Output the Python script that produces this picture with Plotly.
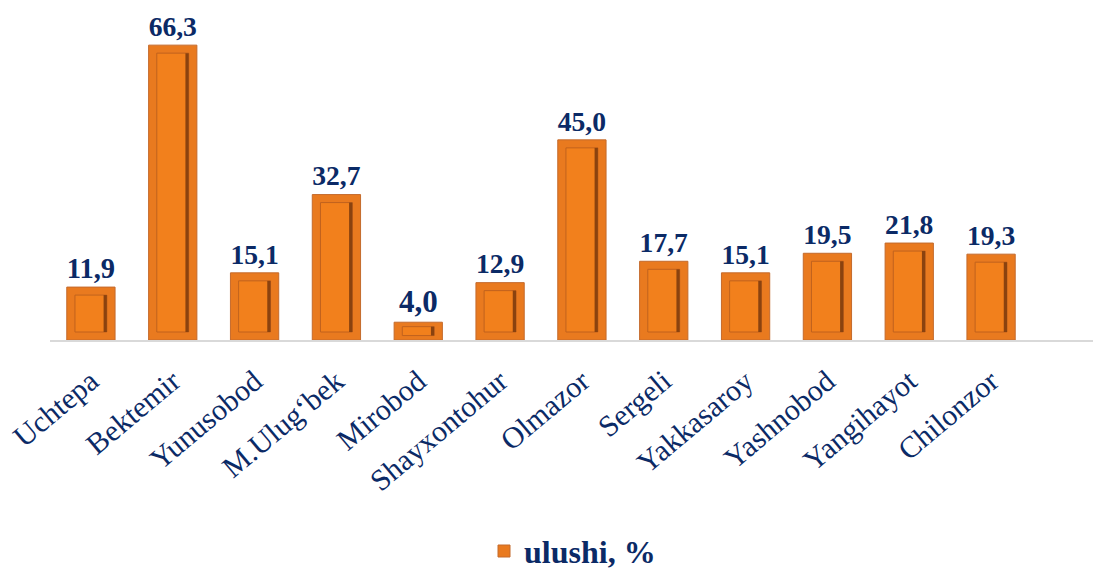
import plotly.graph_objects as go

categories = ["Uchtepa", "Bektemir", "Yunusobod", "M.Ulug‘bek", "Mirobod", "Shayxontohur",
              "Olmazor", "Sergeli", "Yakkasaroy", "Yashnobod", "Yangihayot", "Chilonzor"]
values = [11.9, 66.3, 15.1, 32.7, 4.0, 12.9, 45.0, 17.7, 15.1, 19.5, 21.8, 19.3]
series_name = "ulushi, %"

labels = [f"{v:.1f}".replace(".", ",") for v in values]
navy = "#0B2A66"
font_family = "Liberation Serif"

# inner face of the bevelled bars, derived from the data values
inset = [min(1.8, v * 0.25) for v in values]
inner_base = inset
inner_h = [v - 2 * i for v, i in zip(values, inset)]

fig = go.Figure()
fig.add_trace(go.Bar(
    x=categories, y=values, name=series_name, width=0.59,
    marker=dict(color="#E97A1F", line=dict(color="#C46A2C", width=1)),
    text=labels, textposition="outside", cliponaxis=False,
    textfont=dict(family=font_family, size=31, color=navy, weight="bold"),
))
fig.add_trace(go.Bar(
    x=categories, y=inner_h, base=inner_base, width=0.39, showlegend=False,
    marker=dict(color="#F2801C", line=dict(color="#C0621E", width=1)),
    hoverinfo="skip",
))
# dark shaded inner right edge of the bevel
fig.add_trace(go.Bar(
    x=categories, y=inner_h, base=inner_base, width=0.04, offset=0.155, showlegend=False,
    marker=dict(color="#8A420F", line=dict(width=0)),
    hoverinfo="skip",
))

fig.update_layout(
    width=1093, height=561,
    barmode="overlay",
    plot_bgcolor="white", paper_bgcolor="white",
    margin=dict(l=42, r=6, t=2, b=229, autoexpand=False),
    font=dict(family=font_family, color=navy),
    showlegend=True,
    legend=dict(orientation="h", x=0.5, xanchor="center", y=-0.64, yanchor="middle",
                font=dict(family=font_family, size=32, color=navy, weight="bold"),
                itemwidth=30),
)
fig.update_xaxes(
    range=[-0.5, 12.27], showline=True, linecolor="#D9D9D9", linewidth=1.5,
    ticks="", tickangle=-40, automargin=False, ticklabelstandoff=10,
    tickfont=dict(family=font_family, size=30, color=navy),
    showgrid=False,
)
fig.update_yaxes(range=[0, 74.2], visible=False, showgrid=False, automargin=False)

fig.write_html("out.html")
